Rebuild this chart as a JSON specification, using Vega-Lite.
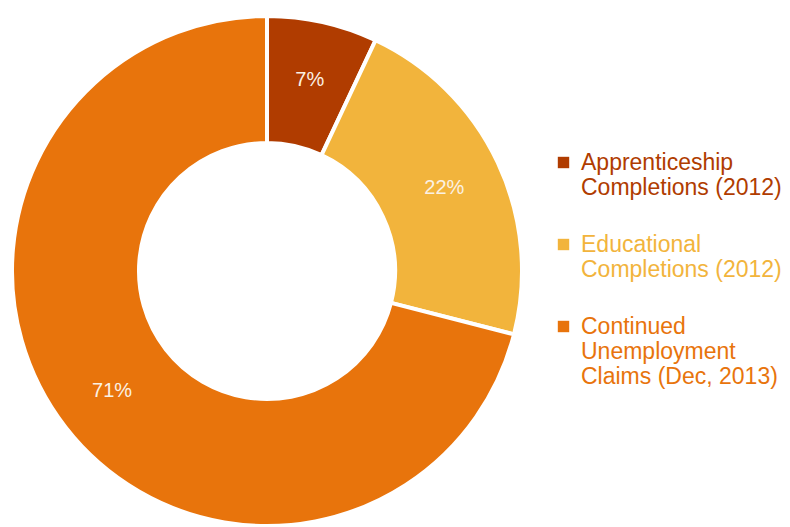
{
  "$schema": "https://vega.github.io/schema/vega-lite/v6.json",
  "width": 534,
  "height": 542,
  "padding": 0,
  "autosize": {"type": "pad"},
  "background": "white",
  "data": {"values": [
    {"category": "Apprenticeship Completions (2012)", "value": 7, "order": 1, "label": "7%"},
    {"category": "Educational Completions (2012)", "value": 22, "order": 2, "label": "22%"},
    {"category": "Continued Unemployment Claims (Dec, 2013)", "value": 71, "order": 3, "label": "71%"}
  ]},
  "encoding": {
    "theta": {"field": "value", "type": "quantitative", "stack": true},
    "order": {"field": "order", "type": "quantitative"},
    "color": {
      "field": "category", "type": "nominal",
      "sort": ["Apprenticeship Completions (2012)", "Educational Completions (2012)", "Continued Unemployment Claims (Dec, 2013)"],
      "scale": {"domain": ["Apprenticeship Completions (2012)", "Educational Completions (2012)", "Continued Unemployment Claims (Dec, 2013)"], "range": ["#B03C00", "#F2B43C", "#E8740C"]},
      "legend": {
        "title": null,
        "orient": "none",
        "legendX": 552,
        "legendY": 151,
        "symbolType": "square",
        "symbolSize": 130,
        "symbolStrokeWidth": 0,
        "labelFont": "Liberation Sans",
        "labelFontSize": 23,
        "labelLimit": 300,
        "rowPadding": 33,
        "labelOffset": 6,
        "labelColor": {"expr": "scale('color', datum.value)"},
        "labelExpr": "datum.label == 'Apprenticeship Completions (2012)' ? ['Apprenticeship', 'Completions (2012)'] : datum.label == 'Educational Completions (2012)' ? ['Educational', 'Completions (2012)'] : ['Continued', 'Unemployment', 'Claims (Dec, 2013)']"
      }
    }
  },
  "layer": [
    {
      "mark": {"type": "arc", "outerRadius": 255, "innerRadius": 128, "stroke": "white", "strokeWidth": 4}
    },
    {
      "mark": {"type": "text", "radius": 196, "font": "Liberation Sans", "fontSize": 20},
      "encoding": {"text": {"field": "label"}, "color": {"value": "#FBF1E4"}}
    }
  ],
  "config": {"view": {"stroke": null}}
}
